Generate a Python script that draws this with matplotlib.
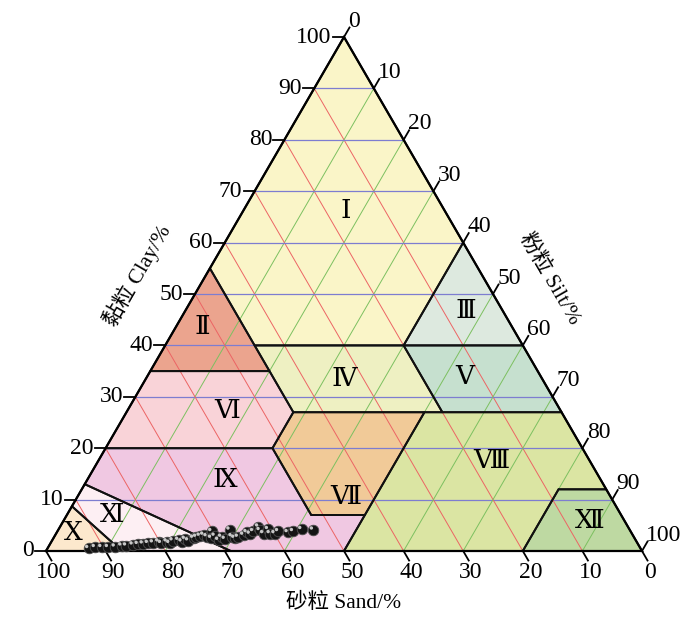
import numpy as np
import matplotlib
matplotlib.use('Agg')
import matplotlib.pyplot as plt
from matplotlib.patches import Polygon
from matplotlib import transforms

# texture classes: vertices as (sand %, clay %); silt = 100 - sand - clay
regions = {
    'Ⅰ': [(45, 55), (0, 100), (0, 60), (20, 40), (45, 40)],
    'Ⅱ': [(45, 55), (45, 35), (65, 35)],
    'Ⅲ': [(0, 60), (0, 40), (20, 40)],
    'Ⅳ': [(45, 40), (20, 40), (20, 27), (45, 27)],
    'Ⅴ': [(20, 40), (0, 40), (0, 27), (20, 27)],
    'Ⅵ': [(65, 35), (45, 35), (45, 27), (52, 20), (80, 20)],
    'Ⅶ': [(45, 27), (23, 27), (43, 7), (52, 7), (52, 20)],
    'Ⅷ': [(23, 27), (0, 27), (0, 12), (8, 12), (20, 0), (50, 0), (43, 7)],
    'Ⅸ': [(80, 20), (52, 20), (52, 7), (43, 7), (50, 0), (69, 0), (87, 13)],
    'Ⅹ': [(91.3, 8.7), (87.3, 0), (100, 0)],
    'Ⅺ': [(87, 13), (69, 0), (87.3, 0), (91.3, 8.7)],
    'Ⅻ': [(8, 12), (0, 12), (0, 0), (20, 0)],
}
colors = {
    'Ⅰ': '#faf5c8', 'Ⅱ': '#eba48e', 'Ⅲ': '#dde9df', 'Ⅳ': '#eef0c2',
    'Ⅴ': '#c6e0cf', 'Ⅵ': '#f9d3d8', 'Ⅶ': '#f1ca98', 'Ⅷ': '#dbe5a3',
    'Ⅸ': '#f0c8e2', 'Ⅹ': '#fce8cd', 'Ⅺ': '#fdeff3', 'Ⅻ': '#bed9a2',
}
# label anchor (sand, clay)
label_pos = {
    'Ⅰ': (16.7, 66), 'Ⅱ': (52, 43.4), 'Ⅲ': (6.3, 46.5), 'Ⅳ': (33.3, 33.3),
    'Ⅴ': (12.9, 33.7), 'Ⅵ': (56.1, 27), 'Ⅶ': (44.5, 10.3), 'Ⅷ': (16.7, 17.3),
    'Ⅸ': (63.2, 13.6), 'Ⅹ': (93.8, 3.3), 'Ⅺ': (85.5, 6.8), 'Ⅻ': (5.9, 5.6),
}

# samples
sand = [92.6, 91.4, 90.3, 89.2, 88.0, 86.8, 86.0, 84.8, 83.9, 83.0, 82.1, 81.2, 80.2,
        79.9, 78.8, 78.5, 77.7, 76.7, 76.3, 75.5, 75.1, 74.0, 73.4, 72.7, 72.0, 71.6,
        70.3, 71.0, 70.2, 70.0, 69.2, 68.8, 67.1, 67.4, 67.1, 66.4, 65.3, 64.5, 64.1,
        63.3, 62.0, 62.1, 61.8, 60.6, 60.7, 59.9, 59.1, 57.6, 56.6, 55.0, 53.1]
clay = [0.5, 0.7, 0.7, 0.7, 0.8, 1.0, 1.0, 1.2, 1.3, 1.4, 1.5, 1.6, 1.8,
        1.5, 1.8, 1.5, 2.0, 2.1, 1.8, 2.3, 2.0, 2.5, 2.7, 2.9, 3.1, 2.8,
        3.8, 2.5, 2.9, 2.1, 2.7, 2.3, 4.1, 2.8, 2.5, 2.7, 3.1, 3.6, 3.3,
        3.8, 4.7, 4.0, 3.4, 4.2, 3.4, 3.4, 3.8, 3.6, 3.8, 4.2, 4.1]

ticks = list(range(0, 101, 10))
H = np.sqrt(3) / 2


def tern(s, c):
    s = np.asarray(s, dtype=float)
    c = np.asarray(c, dtype=float)
    silt = 100 - s - c
    return (silt + c / 2) / 100, c / 100 * H


FONT = ['Liberation Serif', 'DejaVu Serif', 'Noto Sans CJK SC']
TFONT = ['Liberation Serif', 'Noto Sans CJK SC']

fig = plt.figure(figsize=(7, 6.19), dpi=100)
ax = fig.add_axes([0, 0, 1, 1])
ax.set_xlim(-46 / 596, 654 / 596)
ax.set_ylim(-68 / 593.5, 551 / 593.5)
ax.axis('off')

# fills
for k, pts in regions.items():
    xs, ys = tern([p[0] for p in pts], [p[1] for p in pts])
    ax.add_patch(Polygon(np.column_stack([xs, ys]), closed=True,
                         facecolor=colors[k], edgecolor='none', zorder=1))

# grid
for v in ticks[1:-1]:
    x, y = tern([100 - v, 0], [v, v])          # clay const
    ax.plot(x, y, color='#7d7dd0', lw=0.9, zorder=2)
    x, y = tern([v, v], [0, 100 - v])          # sand const
    ax.plot(x, y, color='#ec6464', lw=0.7, zorder=2)
    x, y = tern([100 - v, 0], [0, 100 - v])    # silt const
    ax.plot(x, y, color='#7cc060', lw=0.7, zorder=2)

# boundaries
for k, pts in regions.items():
    xs, ys = tern([p[0] for p in pts], [p[1] for p in pts])
    ax.add_patch(Polygon(np.column_stack([xs, ys]), closed=True,
                         facecolor='none', edgecolor='#111111', lw=1.4, zorder=3))

# outline
x, y = tern([100, 0, 0, 100], [0, 0, 100, 0])
ax.plot(x, y, color='black', lw=1.6, zorder=3, solid_joinstyle='miter')

# ticks
L = 0.0185
for v in ticks:
    # clay, left edge
    x, y = tern(100 - v, v)
    ax.plot([x, x - L], [y, y], color='black', lw=1.3)
    ax.text(x - L - 0.002, y, str(v), ha='right', va='center', fontsize=17, family=FONT)
    # sand, bottom
    x, y = tern(v, 0)
    ax.plot([x, x + 0.5 * L], [y, y - H * L], color='black', lw=1.3)
    ax.text(x + 0.5 * L + 0.004, y - H * L - 0.003, str(v), ha='center', va='top',
            fontsize=17, family=FONT)
    # silt, right edge
    x, y = tern(0, 100 - v)
    ax.plot([x, x + 0.5 * L], [y, y + H * L], color='black', lw=1.3)
    ax.text(x + 0.5 * L - 0.002, y + H * L - 0.007, str(v), ha='left', va='bottom',
            fontsize=17, family=FONT)

# region labels
for k, (s, c) in label_pos.items():
    x, y = tern(s, c)
    ax.text(x, y, k, ha='center', va='center', fontsize=19, family=FONT, zorder=5)

# samples: dark balls with a small highlight
px, py = tern(sand, clay)
ax.scatter(px, py, s=58, color='#141414', edgecolors='#505050', linewidths=0.6, zorder=6)
hl = transforms.offset_copy(ax.transData, fig=fig, x=-1.4, y=1.4, units='points')
ax.scatter(px, py, s=6, color='#c8c8c8', edgecolors='none', zorder=7, transform=hl)

# axis titles
ax.text((137 - 46) / 596, (551 - 275) / 593.5, '黏粒 Clay/%', rotation=60,
        ha='center', va='center', fontsize=15.5, family=TFONT)
ax.text((550 - 46) / 596, (551 - 279) / 593.5, '粉粒 Silt/%', rotation=-60,
        ha='center', va='center', fontsize=15.5, family=TFONT)
ax.text(0.5, (551 - 603) / 593.5, '砂粒 Sand/%', ha='center', va='center',
        fontsize=15.5, family=TFONT)

fig.savefig('out.png', dpi=100)
